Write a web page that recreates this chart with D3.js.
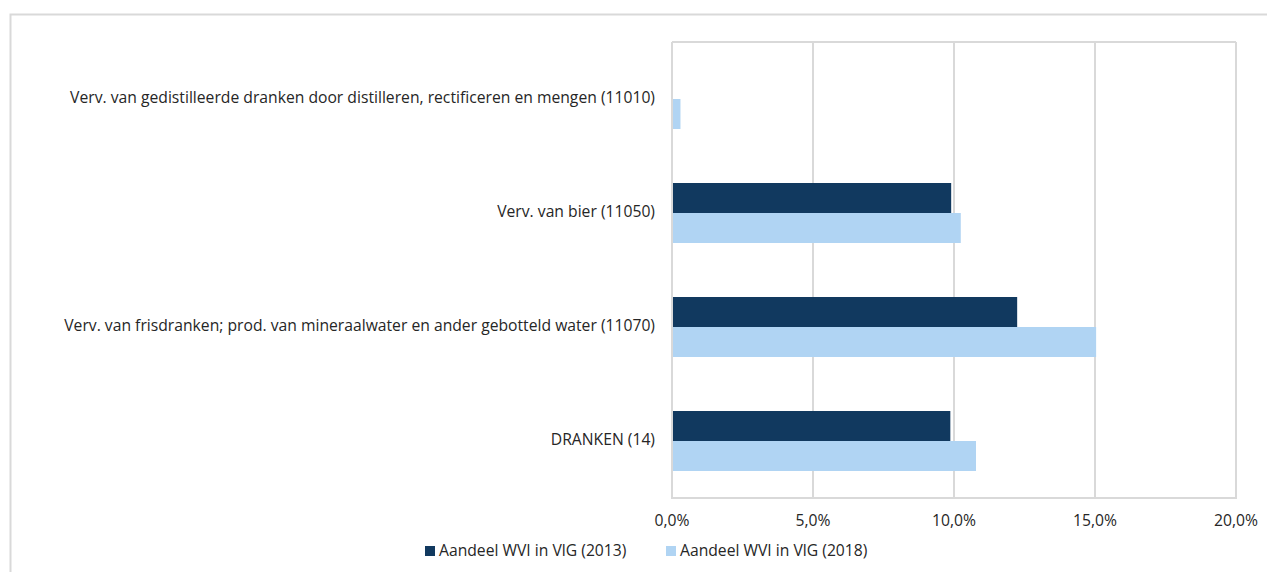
<!DOCTYPE html>
<html lang="nl">
<head>
    <meta charset="UTF-8">
    <title>Aandeel WVI in VlG</title>
    <script src="https://d3js.org/d3.v7.min.js"></script>
    <style>
        body {
            margin: 0;
            background-color: #ffffff;
            font-family: "Open Sans", "Liberation Sans", Arial, sans-serif;
        }
        .label {
            font-size: 15.7px;
            fill: #262626;
        }
        .grid line {
            stroke: #d9d9d9;
        }
    </style>
</head>
<body>
    <svg width="1267" height="572"></svg>
    <script>
        // Data
        const categories = [
            "Verv. van gedistilleerde dranken door distilleren, rectificeren en mengen (11010)",
            "Verv. van bier (11050)",
            "Verv. van frisdranken; prod. van mineraalwater en ander gebotteld water (11070)",
            "DRANKEN (14)"
        ];
        const seriesNames = ["Aandeel WVI in VlG (2013)", "Aandeel WVI in VlG (2018)"];
        const share2013 = [null, 9.9, 12.24, 9.87];
        const share2018 = [0.3, 10.24, 15.04, 10.78];
        const xTicks = [0, 5, 10, 15, 20];
        const colors = ["#11395f", "#b0d4f3"];

        const svg = d3.select("svg");

        // outer chart frame
        svg.append("rect")
           .attr("x", 10.5).attr("y", 14.5)
           .attr("width", 1300).attr("height", 600)
           .attr("fill", "none")
           .attr("stroke", "#d9d9d9")
           .attr("stroke-width", 2);

        const margin = {top: 42, left: 672, right: 1236, bottom: 498};

        const x = d3.scaleLinear()
                    .domain([0, 20])
                    .range([margin.left, margin.right]);

        const y = d3.scaleBand()
                    .domain(categories)
                    .range([margin.top, margin.bottom]);

        const groupH = y.bandwidth() / 1.9;
        const sub = d3.scaleBand()
                      .domain([0, 1])
                      .range([0, groupH]);

        // grid lines
        svg.append("g")
           .attr("class", "grid")
           .selectAll("line")
           .data(xTicks)
           .enter()
           .append("line")
           .attr("x1", d => x(d)).attr("x2", d => x(d))
           .attr("y1", margin.top).attr("y2", margin.bottom)
           .attr("stroke-width", 2);

        svg.append("line")
           .attr("x1", margin.left).attr("x2", margin.right)
           .attr("y1", margin.top).attr("y2", margin.top)
           .attr("stroke", "#d9d9d9").attr("stroke-width", 2);

        svg.append("line")
           .attr("x1", margin.left - 1).attr("x2", margin.right + 1)
           .attr("y1", margin.bottom).attr("y2", margin.bottom)
           .attr("stroke", "#d9d9d9").attr("stroke-width", 2);

        // bars
        const series = [share2013, share2018];
        series.forEach((vals, s) => {
            svg.append("g")
               .selectAll("rect")
               .data(vals.map((v, i) => ({v: v, c: categories[i]})).filter(d => d.v !== null))
               .enter()
               .append("rect")
               .attr("x", x(0) + 1)
               .attr("y", d => y(d.c) + (y.bandwidth() - groupH) / 2 + sub(s))
               .attr("width", d => x(d.v) - x(0) - 1)
               .attr("height", sub.bandwidth())
               .attr("fill", colors[s]);
        });

        // category labels
        svg.append("g")
           .selectAll("text")
           .data(categories)
           .enter()
           .append("text")
           .attr("class", "label")
           .attr("x", 655)
           .attr("y", d => y(d) + y.bandwidth() / 2 - 1)
           .attr("dy", "0.35em")
           .attr("text-anchor", "end")
           .text(d => d);

        // x tick labels
        svg.append("g")
           .selectAll("text")
           .data(xTicks)
           .enter()
           .append("text")
           .attr("class", "label")
           .attr("x", d => x(d))
           .attr("y", 521)
           .attr("dy", "0.35em")
           .attr("text-anchor", "middle")
           .text(d => d3.format(".1f")(d).replace(".", ",") + "%");

        // legend
        const legendX = [425, 666];
        const legend = svg.append("g");
        seriesNames.forEach((name, i) => {
            legend.append("rect")
                  .attr("x", legendX[i]).attr("y", 546)
                  .attr("width", 10).attr("height", 10)
                  .attr("fill", colors[i]);
            legend.append("text")
                  .attr("class", "label")
                  .attr("x", legendX[i] + 14)
                  .attr("y", 551)
                  .attr("dy", "0.35em")
                  .text(name);
        });
    </script>
</body>
</html>
